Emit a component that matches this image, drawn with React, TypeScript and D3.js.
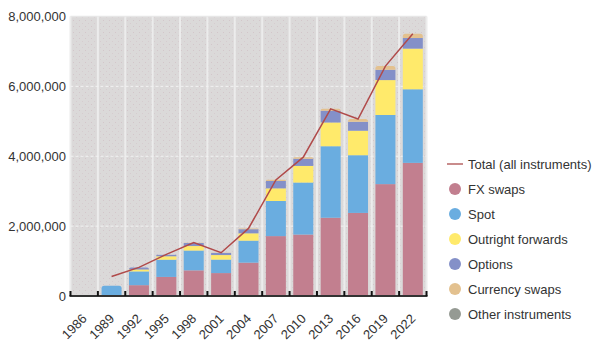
import React from "react";
import * as d3 from "d3";

const years = ["1986", "1989", "1992", "1995", "1998", "2001", "2004", "2007", "2010", "2013", "2016", "2019", "2022"];
const fxSwaps = [0, 0, 310000, 546000, 734000, 656000, 954000, 1714000, 1759000, 2240000, 2378000, 3202000, 3810000];
const spot = [0, 295000, 394000, 494000, 568000, 386000, 631000, 1005000, 1489000, 2047000, 1652000, 1979000, 2107000];
const outrightForwards = [0, 0, 58000, 97000, 128000, 130000, 209000, 362000, 475000, 679000, 700000, 999000, 1163000];
const options = [0, 0, 55000, 41000, 87000, 60000, 119000, 212000, 207000, 337000, 254000, 294000, 304000];
const currencySwaps = [0, 0, 0, 4000, 10000, 7000, 21000, 31000, 43000, 54000, 82000, 108000, 124000];
const otherInstruments = [0, 0, 0, 0, 0, 0, 0, 0, 0, 0, 0, 0, 0];
const total = [null, 560000, 820000, 1190000, 1527000, 1239000, 1934000, 3324000, 3973000, 5357000, 5066000, 6581000, 7506000];
const yTicks = [0, 2000000, 4000000, 6000000, 8000000];

const seriesNames = ["FX swaps", "Spot", "Outright forwards", "Options", "Currency swaps", "Other instruments"];
const seriesColors = ["#c27f8f", "#6aade0", "#ffea6b", "#8490c8", "#e3c18f", "#959a93"];
const seriesData = [fxSwaps, spot, outrightForwards, options, currencySwaps, otherInstruments];

const W = 597, H = 356;
const L = 70.5, R = 426.5, T = 16.5, B = 296;
const FONT = "'Liberation Sans', Arial, sans-serif";

export default function App() {
  const x = d3.scaleBand<string>().domain(years).range([L, R]).paddingInner(0.27).paddingOuter(0.135);
  const y = d3.scaleLinear().domain([0, 8000000]).range([B, T]);
  const step = x.step();
  const bw = x.bandwidth();

  const rows = years.map((yr, i) => {
    const r: any = { year: yr };
    seriesNames.forEach((n, k) => (r[n] = seriesData[k][i]));
    return r;
  });
  const stacked = d3.stack<any>().keys(seriesNames)(rows);

  // topmost non-empty segment per year
  const topKey = years.map((_, i) => {
    let t = -1;
    seriesData.forEach((s, k) => { if (s[i] > 0) t = k; });
    return t;
  });

  const linePts = years.map((yr, i) => ({ yr, v: total[i] })).filter((d) => d.v != null);
  const line = d3.line<any>().x((d) => (x(d.yr) as number) + bw / 2).y((d) => y(d.v));

  const boundaries = d3.range(years.length + 1).map((i) => L + i * step);

  const legendItems = [{ name: "Total (all instruments)", color: "#b05050", isLine: true }].concat(
    seriesNames.map((n, k) => ({ name: n, color: seriesColors[k], isLine: false }))
  );

  const roundedTop = (x0: number, y0: number, w: number, h: number, r: number) => {
    const rr = Math.min(r, h, w / 2);
    return `M${x0},${y0 + h}V${y0 + rr}Q${x0},${y0} ${x0 + rr},${y0}H${x0 + w - rr}Q${x0 + w},${y0} ${x0 + w},${y0 + rr}V${y0 + h}Z`;
  };

  return (
    <svg width={W} height={H} style={{ position: "absolute", left: 0, top: 0, fontFamily: FONT }}>
      <defs>
        <pattern id="dots" width="6" height="6" patternUnits="userSpaceOnUse">
          <rect width="6" height="6" fill="#dbd9d9" />
          <rect x="1" y="2" width="1" height="1" fill="#d3c6ca" />
          <rect x="4" y="5" width="1" height="1" fill="#d6cccf" />
        </pattern>
      </defs>
      <rect x={L} y={T} width={R - L} height={B - T} fill="url(#dots)" />
      <line x1={L} x2={R} y1={T} y2={T} stroke="#e6e6e6" strokeWidth={1.5} />
      {boundaries.map((bx, i) => (
        <line key={"v" + i} x1={bx} x2={bx} y1={T} y2={B} stroke="#ececec" strokeWidth={2} />
      ))}
      {yTicks.slice(1, -1).map((t) => (
        <line key={"h" + t} x1={L} x2={R} y1={y(t)} y2={y(t)} stroke="#f2f2f2" strokeWidth={1} strokeDasharray="3,2" />
      ))}
      {stacked.map((s, k) =>
        s.map((d, i) => {
          const h = y(d[0]) - y(d[1]);
          if (h <= 0) return null;
          const x0 = x(years[i]) as number;
          if (topKey[i] === k) {
            return <path key={k + "-" + i} d={roundedTop(x0, y(d[1]), bw, h, 2.5)} fill={seriesColors[k]} />;
          }
          return <rect key={k + "-" + i} x={x0} y={y(d[1])} width={bw} height={h} fill={seriesColors[k]} />;
        })
      )}
      <path d={line(linePts) as string} fill="none" stroke="#b04a4a" strokeWidth={1.5} />
      <line x1={L - 1} x2={R + 1} y1={B} y2={B} stroke="#333" strokeWidth={2} />
      {boundaries.map((bx, i) => (
        <line key={"t" + i} x1={bx} x2={bx} y1={B - 5} y2={B} stroke="#111" strokeWidth={2} />
      ))}
      {yTicks.map((t) => (
        <text key={"yl" + t} x={66} y={y(t)} dy="0.35em" textAnchor="end" fontSize={13} fill="#333">
          {d3.format(",")(t)}
        </text>
      ))}
      {years.map((yr) => {
        const cx = (x(yr) as number) + bw / 2 + 3.5;
        return (
          <text key={"xl" + yr} transform={`translate(${cx},319.5) rotate(-45)`} textAnchor="end" fontSize={13} fill="#333">
            {yr}
          </text>
        );
      })}
      {legendItems.map((it, i) => {
        const cy = 164 + i * 25;
        return (
          <g key={"lg" + i}>
            {it.isLine ? (
              <line x1={447} x2={463} y1={cy} y2={cy} stroke="#c98c8c" strokeWidth={2} />
            ) : (
              <circle cx={455} cy={cy} r={6} fill={it.color} />
            )}
            <text x={468} y={cy} dy="0.35em" fontSize={13} fill="#333">
              {it.name}
            </text>
          </g>
        );
      })}
    </svg>
  );
}
